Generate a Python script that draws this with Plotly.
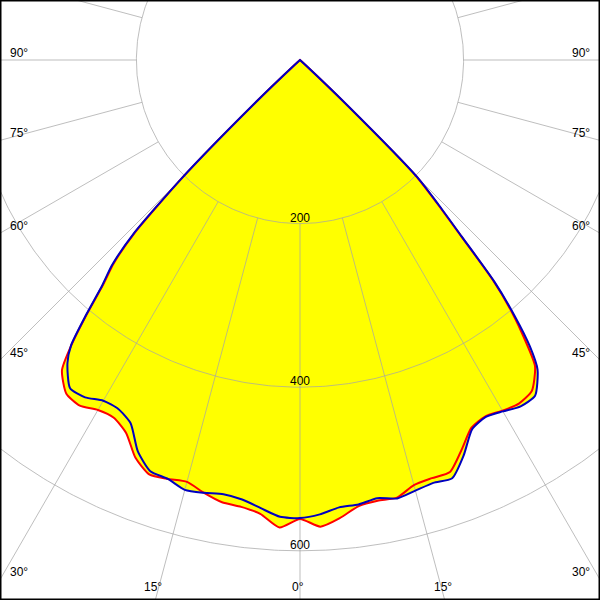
import numpy as np
import plotly.graph_objects as go

# ---------------- data ----------------
GAMMA = [0, 2.5, 5, 7.5, 10, 12.5, 15, 17.5, 20, 22.5, 25, 27.5, 30, 32.5,
         35, 37.5, 38.75, 40, 41.25, 42.5, 43.75, 45, 46.25, 47.5,
         50, 60, 70, 80, 90]

RED_LEFT = [561, 572, 557, 551, 549, 542, 534, 537, 539, 526, 503, 493, 494, 501,
            498, 478, 446, 405, 365, 337, 292, 203, 78, 9,
            0, 0, 0, 0, 0]
RED_RIGHT = [561, 571, 562, 550, 547, 548, 538, 536, 536, 516, 496, 491, 495, 498,
             494, 472, 440, 404, 357, 290, 242, 201, 78, 9,
             0, 0, 0, 0, 0]
BLUE_LEFT = [560, 559, 550, 542, 539, 542, 544, 537, 535, 518, 490, 481, 481, 489,
             490, 467, 447, 407, 367, 340, 295, 205, 80, 10,
             0, 0, 0, 0, 0]
BLUE_RIGHT = [560, 556, 549, 548, 544, 549, 545, 542, 544, 523, 498, 492, 496, 502,
              501, 477, 449, 408, 360, 292, 245, 203, 80, 10,
              0, 0, 0, 0, 0]

RING_VALUES = [200, 400, 600, 800]
RING_LABELS = ["200", "400", "600"]
SPOKE_ANGLES = list(range(0, 360, 15))
SIDE_LABEL_ANGLES = [90, 75, 60, 45, 30]
BOTTOM_LABEL_ANGLES = [15, 0]

# ---------------- geometry ----------------
W = H = 600
CX, CY = 300.0, 60.0      # pole position in pixels
PX_PER_UNIT = 0.818       # pixels per cd unit

def curve_xy(left, right):
    g = np.array(GAMMA, dtype=float)
    ang = np.concatenate([-g[::-1], g[1:]])
    inten = np.concatenate([np.array(left, float)[::-1], np.array(right, float)[1:]])
    t = np.radians(ang)
    return inten * np.sin(t), -inten * np.cos(t)

fig = go.Figure()

YELLOW = "#FFFF00"
for left, right in [(RED_LEFT, RED_RIGHT), (BLUE_LEFT, BLUE_RIGHT)]:
    x, y = curve_xy(left, right)
    fig.add_trace(go.Scatter(x=x, y=y, mode="lines", fill="toself",
                             fillcolor=YELLOW,
                             line=dict(width=0, color=YELLOW, shape="spline", smoothing=0.6),
                             hoverinfo="skip", showlegend=False))

GRID = "rgba(165,165,165,0.72)"
# rings
phi = np.radians(np.linspace(0, 360, 721))
for r in RING_VALUES:
    fig.add_trace(go.Scatter(x=r * np.sin(phi), y=-r * np.cos(phi), mode="lines",
                             line=dict(color=GRID, width=1), hoverinfo="skip",
                             showlegend=False))
# spokes
for a in SPOKE_ANGLES:
    t = np.radians(a)
    r0, r1 = RING_VALUES[0], 1200
    fig.add_trace(go.Scatter(x=[r0 * np.sin(t), r1 * np.sin(t)],
                             y=[-r0 * np.cos(t), -r1 * np.cos(t)], mode="lines",
                             line=dict(color=GRID, width=1), hoverinfo="skip",
                             showlegend=False))

# curves
for (left, right), col in [((RED_LEFT, RED_RIGHT), "#FF0000"),
                           ((BLUE_LEFT, BLUE_RIGHT), "#0000C0")]:
    x, y = curve_xy(left, right)
    fig.add_trace(go.Scatter(x=x, y=y, mode="lines",
                             line=dict(color=col, width=2, shape="spline", smoothing=0.6),
                             hoverinfo="skip", showlegend=False))

FONT = dict(family="Liberation Sans, Arial, sans-serif", size=12, color="black")
ann = []
for r, lab in zip(RING_VALUES, RING_LABELS):
    ann.append(dict(x=0, y=-r, xref="x", yref="y", text=lab, showarrow=False,
                    xanchor="center", yanchor="middle", yshift=6, font=FONT))

def paper(px, py):
    return px / W, 1 - py / H

for a in SIDE_LABEL_ANGLES:
    ta = np.radians(a)
    yedge = CY + CX * np.cos(ta) / np.sin(ta)
    for side in (-1, 1):
        px = 9 if side < 0 else W - 9
        xp, yp = paper(px, yedge - 7.5)
        ann.append(dict(x=xp, y=yp, xref="paper", yref="paper", text=f"{a}°",
                        showarrow=False, xanchor="left" if side < 0 else "right",
                        yanchor="middle", font=FONT, borderpad=0))
for a in BOTTOM_LABEL_ANGLES:
    ta = np.radians(a)
    dx = (H - CY) * np.tan(ta)
    for side in ((-1, 1) if a else (1,)):
        xp, yp = paper(CX + side * dx - 2, 587)
        ann.append(dict(x=xp, y=yp, xref="paper", yref="paper", text=f"{a}°",
                        showarrow=False, xanchor="center", yanchor="middle",
                        font=FONT, borderpad=0))

ax = dict(visible=False, showgrid=False, zeroline=False, fixedrange=True)
fig.update_layout(
    width=W, height=H, margin=dict(l=0, r=0, t=0, b=0),
    paper_bgcolor="white", plot_bgcolor="white",
    xaxis=dict(range=[-CX / PX_PER_UNIT, (W - CX) / PX_PER_UNIT], **ax),
    yaxis=dict(range=[-(H - CY) / PX_PER_UNIT, CY / PX_PER_UNIT], **ax),
    annotations=ann,
    shapes=[dict(type="rect", xref="paper", yref="paper", x0=0, y0=0, x1=1, y1=1,
                 line=dict(color="black", width=3), layer="above")],
    showlegend=False,
)

fig.write_html("out.html", config={"displayModeBar": False},
               post_script="document.body.style.margin='0';document.body.style.overflow='hidden';")
